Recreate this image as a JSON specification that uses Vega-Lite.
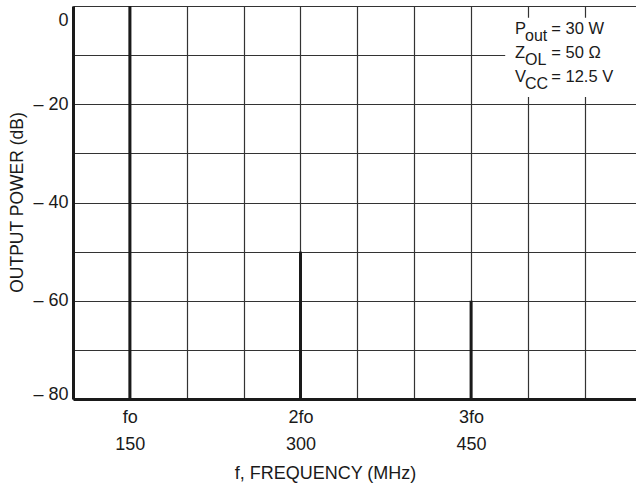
{
  "$schema": "https://vega.github.io/schema/vega-lite/v6.json",
  "width": 563,
  "height": 393,
  "autosize": {"type": "none"},
  "padding": {"left": 73, "top": 6, "right": 0, "bottom": 87},
  "background": "white",
  "config": {"view": {"stroke": null}, "font": "Liberation Sans"},
  "datasets": {
    "spikes": [
      {"harmonic": "fo", "freq": 150, "level": 0},
      {"harmonic": "2fo", "freq": 300, "level": -50},
      {"harmonic": "3fo", "freq": 450, "level": -60}
    ],
    "box": [{"freq": 480, "freq2": 595, "level": -2.4, "level2": -18.5}],
    "note": [
      {"part": "main", "freq": 488.6, "level": -5.6, "txt": "P"},
      {"part": "main", "freq": 488.6, "level": -10.6, "txt": "Z"},
      {"part": "main", "freq": 488.6, "level": -15.5, "txt": "V"},
      {"part": "sub", "freq": 497.4, "level": -7.1, "txt": "out"},
      {"part": "sub", "freq": 497.4, "level": -12.0, "txt": "OL"},
      {"part": "sub", "freq": 497.4, "level": -16.9, "txt": "CC"},
      {"part": "rest", "freq": 520.5, "level": -5.6, "txt": "= 30 W"},
      {"part": "rest", "freq": 520.5, "level": -10.6, "txt": "= 50 Ω"},
      {"part": "rest", "freq": 520.5, "level": -15.5, "txt": "= 12.5 V"}
    ]
  },
  "layer": [
    {
      "data": {"name": "spikes"},
      "mark": {"type": "rule", "strokeWidth": 3, "color": "#1a1a1a"},
      "encoding": {
        "x": {
          "field": "freq",
          "type": "quantitative",
          "scale": {"domain": [100, 595], "nice": false, "zero": false},
          "axis": {
            "title": "f, FREQUENCY (MHz)",
            "values": [100, 150, 200, 250, 300, 350, 400, 450, 500, 550],
            "labelExpr": "datum.value == 150 ? ['fo', '150'] : datum.value == 300 ? ['2fo', '300'] : datum.value == 450 ? ['3fo', '450'] : ''",
            "ticks": false,
            "grid": true,
            "gridColor": "#333",
            "gridWidth": 1.2,
            "domainColor": "#1a1a1a",
            "domainWidth": 3,
            "labelFontSize": 18,
            "labelColor": "#1a1a1a",
            "labelBaseline": "top",
            "labelLineHeight": 27,
            "labelPadding": 9,
            "labelFlush": false,
            "labelOverlap": false,
            "titleFontSize": 18,
            "titleFontWeight": "normal",
            "titleColor": "#1a1a1a",
            "titleX": 252,
            "titleY": 79,
            "titleBaseline": "alphabetic"
          }
        },
        "y": {
          "field": "level",
          "type": "quantitative",
          "scale": {"domain": [-80, 0], "nice": false},
          "axis": {
            "title": "OUTPUT POWER (dB)",
            "values": [-80, -70, -60, -50, -40, -30, -20, -10, 0],
            "labelExpr": "datum.value % 20 != 0 ? '' : datum.value == 0 ? '0' : '– ' + abs(datum.value)",
            "ticks": false,
            "grid": true,
            "gridColor": "#333",
            "gridWidth": 1.2,
            "domainColor": "#1a1a1a",
            "domainWidth": 3,
            "labelFontSize": 18,
            "labelColor": "#1a1a1a",
            "labelPadding": 5,
            "labelFlush": false,
            "labelOverlap": false,
            "labelOffset": {
              "condition": [
                {"test": "datum.value == 0", "value": 14},
                {"test": "datum.value == -80", "value": -5}
              ],
              "value": 0
            },
            "titleFontSize": 17.5,
            "titleFontWeight": "normal",
            "titleColor": "#1a1a1a",
            "titleX": -56,
            "titleY": 196,
            "titleBaseline": "middle"
          }
        },
        "y2": {"datum": -80}
      }
    },
    {
      "data": {"name": "box"},
      "mark": {"type": "rect", "fill": "white"},
      "encoding": {
        "x": {"field": "freq", "type": "quantitative"},
        "x2": {"field": "freq2"},
        "y": {"field": "level", "type": "quantitative"},
        "y2": {"field": "level2"}
      }
    },
    {
      "data": {"name": "note"},
      "transform": [{"filter": "datum.part == 'main' || datum.part == 'rest'"}],
      "mark": {"type": "text", "align": "left", "baseline": "alphabetic", "fontSize": 16.5, "color": "#1a1a1a"},
      "encoding": {
        "x": {"field": "freq", "type": "quantitative"},
        "y": {"field": "level", "type": "quantitative"},
        "text": {"field": "txt"}
      }
    },
    {
      "data": {"name": "note"},
      "transform": [{"filter": "datum.part == 'sub'"}],
      "mark": {"type": "text", "align": "left", "baseline": "alphabetic", "fontSize": 16, "color": "#1a1a1a"},
      "encoding": {
        "x": {"field": "freq", "type": "quantitative"},
        "y": {"field": "level", "type": "quantitative"},
        "text": {"field": "txt"}
      }
    }
  ]
}
